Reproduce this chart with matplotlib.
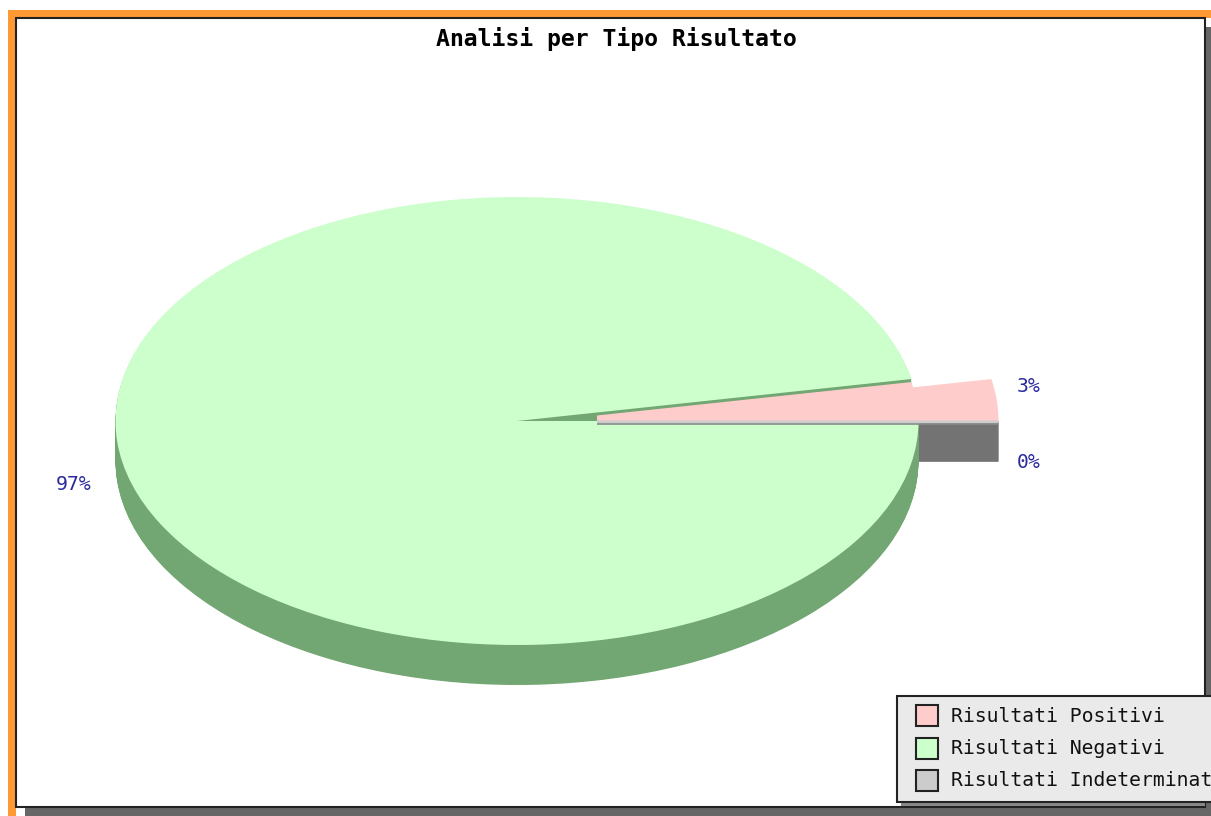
import matplotlib
matplotlib.use('Agg')
import matplotlib.pyplot as plt
from matplotlib.patches import Rectangle

# Data
labels = ['Risultati Positivi', 'Risultati Negativi', 'Risultati Indeterminati']
values = [3, 97, 0]
percent_labels = ['3%', '97%', '0%']

pink = '#ffcccc'
green = '#ccffcc'
gray = '#cccccc'
dark_green = '#72a672'
dark_gray = '#707070'
navy = '#2a2a9e'
mono = 'DejaVu Sans Mono'

W, H = 1211, 816
fig = plt.figure(figsize=(W / 100, H / 100), dpi=100)

# background frame, in pixels
bg = fig.add_axes([0, 0, 1, 1], zorder=0)
bg.set_xlim(0, W)
bg.set_ylim(H, 0)
bg.axis('off')
bg.add_patch(Rectangle((25, 27), W - 25, H - 27, fc='#666666', ec='none'))
bg.add_patch(Rectangle((8, 10), W - 8, 8, fc='#ff9933', ec='none'))
bg.add_patch(Rectangle((8, 10), 8, H - 10, fc='#ff9933', ec='none'))
bg.add_patch(Rectangle((16, 18), 1189, 789, fc='white', ec='#222222', lw=1.5))
bg.text(616, 39, 'Analisi per Tipo Risultato', family=mono, weight='bold',
        fontsize=16.7, ha='center', va='center', color='black')
bg.text(1029, 386, percent_labels[0], family=mono, fontsize=14.2, ha='center', va='center', color=navy)
bg.text(74, 484, percent_labels[1], family=mono, fontsize=14.2, ha='center', va='center', color=navy)
bg.text(1029, 463, percent_labels[2], family=mono, fontsize=14.2, ha='center', va='center', color=navy)

# pie axes: unit circle is stretched to the ellipse
cx, cy, rx, ry = 517, 421, 401.5, 224
ax = fig.add_axes([0, 0, 1, 1], zorder=1)
ax.patch.set_alpha(0)


def draw_slice(i, color, dx=0, dy=0, lw=0):
    wedges, _ = ax.pie(values, colors=[color] * 3, radius=1, startangle=0,
                       center=(dx / rx, -dy / ry),
                       wedgeprops={'linewidth': lw, 'edgecolor': color})
    for j, w in enumerate(wedges):
        w.set_visible(j == i)
    return wedges[i]


# side of the pie
for d in range(40, 0, -1):
    draw_slice(2, dark_gray, dx=80, dy=d, lw=1.2)
for d in range(40, 0, -1):
    draw_slice(1, dark_green, dy=d)

# pink slice, pulled out to the right
draw_slice(0, pink, dx=80)
draw_slice(0, pink, dy=3)
# the gap left by the pulled out slice stays dark, green top hides the rest
ax.add_patch(Rectangle((cx, cy - 12), 80, 12, fc=dark_green, ec='none',
                       transform=bg.transData))

# top of the big slice
draw_slice(1, green)

# grey slice is only a line
draw_slice(2, gray, dx=80, dy=1, lw=2.2)
draw_slice(2, '#8a8a8a', dx=80, dy=3, lw=1.2)

ax.set_aspect('auto')
ax.set_xlim(-cx / rx, (W - cx) / rx)
ax.set_ylim((cy - H) / ry, cy / ry)
ax.axis('off')

# legend box runs off the right side of the picture
fg = fig.add_axes([0, 0, 1, 1], zorder=2)
fg.set_xlim(0, W)
fg.set_ylim(H, 0)
fg.axis('off')
fg.add_patch(Rectangle((901, 700), 304, 106, fc='#888888', ec='none'))
fg.add_patch(Rectangle((897, 696), 330, 106, fc='#eaeaea', ec='#222222', lw=1.5))
for label, color, y in zip(labels, [pink, green, gray], [716, 748.5, 781]):
    fg.add_patch(Rectangle((916, y - 11), 22, 21, fc=color, ec='#222222', lw=1.5))
    fg.text(951, y, label, family=mono, fontsize=14.2, ha='left', va='center',
            color='#111111', clip_on=True)

fig.savefig('out.png', dpi=100)
